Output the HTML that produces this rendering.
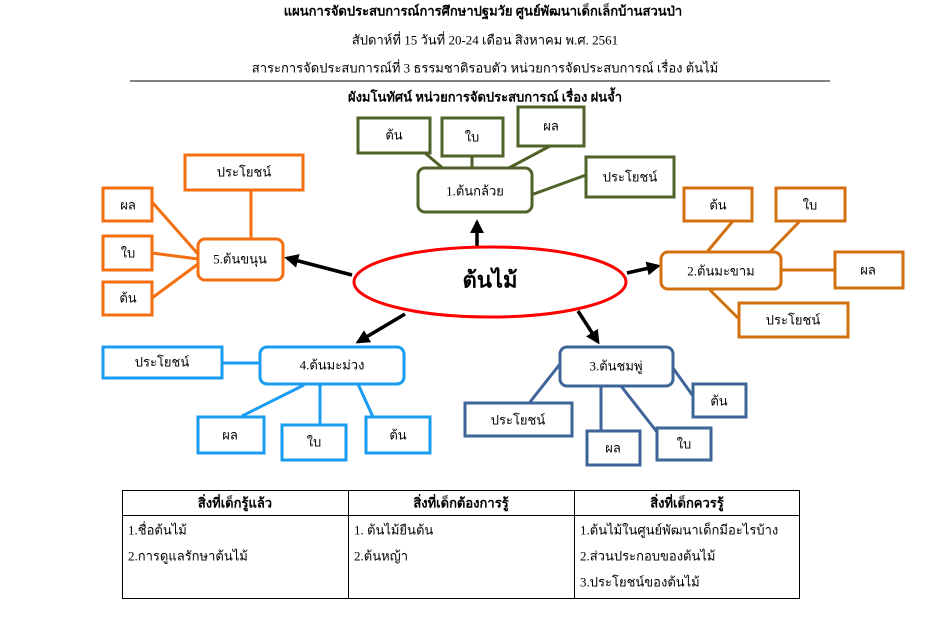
<!DOCTYPE html>
<html><head><meta charset="utf-8"><style>
html,body{margin:0;padding:0;background:#fff;width:941px;height:625px;overflow:hidden}
svg{display:block}
text{font-family:"Liberation Serif","DejaVu Sans",sans-serif;font-size:13px;fill:#000;text-anchor:middle;dominant-baseline:central}
.b{font-weight:bold}
</style></head><body>
<svg width="941" height="625" viewBox="0 0 941 625">
<defs><marker id="ah" viewBox="0 0 10 10" refX="8" refY="5" markerWidth="4" markerHeight="4" orient="auto"><path d="M0,0L10,5L0,10z" fill="#000"/></marker></defs>
<text x="483" y="11" class="b">แผนการจัดประสบการณ์การศึกษาปฐมวัย ศูนย์พัฒนาเด็กเล็กบ้านสวนป่า</text>
<text x="485" y="40">สัปดาห์ที่  15  วันที่ 20-24 เดือน  สิงหาคม  พ.ศ.  2561</text>
<text x="485" y="68">สาระการจัดประสบการณ์ที่ 3 ธรรมชาติรอบตัว  หน่วยการจัดประสบการณ์  เรื่อง ต้นไม้</text>
<line x1="130" y1="81" x2="830" y2="81" stroke="#000" stroke-width="1"/>
<text x="485" y="97" class="b">ผังมโนทัศน์   หน่วยการจัดประสบการณ์  เรื่อง ฝนจ้ำ</text>

<g stroke="#000" stroke-width="3.5" marker-end="url(#ah)">
<line x1="477" y1="248" x2="477" y2="222"/>
<line x1="352" y1="275" x2="287" y2="258"/>
<line x1="627" y1="273" x2="658" y2="266"/>
<line x1="405" y1="314" x2="358" y2="342"/>
<line x1="578" y1="311" x2="598" y2="342"/>
</g>
<ellipse cx="490" cy="282" rx="136" ry="35" fill="#fff" stroke="#f00" stroke-width="3"/>
<text x="490" y="280" class="b" style="font-size:22px">ต้นไม้</text>

<g stroke="#4f6228" stroke-width="3" fill="#fff">
<line x1="425" y1="153" x2="445" y2="170"/><line x1="472" y1="156" x2="472" y2="168"/>
<line x1="550" y1="146" x2="505" y2="170"/><line x1="586" y1="175" x2="531" y2="195"/>
<rect x="358" y="118" width="72" height="35"/><rect x="442" y="118" width="61" height="38"/>
<rect x="518" y="107" width="66" height="39"/><rect x="586" y="157" width="88" height="40"/>
<rect x="418" y="168" width="114" height="44" rx="7"/>
</g>
<text x="394" y="135">ต้น</text><text x="472" y="137">ใบ</text><text x="551" y="126">ผล</text><text x="630" y="177">ประโยชน์</text><text x="475" y="191">1.ต้นกล้วย</text>

<g stroke="#f36f0f" stroke-width="3" fill="#fff">
<line x1="251" y1="190" x2="251" y2="238"/><line x1="152" y1="202" x2="198" y2="254"/>
<line x1="152" y1="253" x2="198" y2="259"/><line x1="152" y1="298" x2="198" y2="264"/>
<rect x="185" y="155" width="118" height="35"/><rect x="103" y="188" width="49" height="33"/>
<rect x="103" y="236" width="49" height="34"/><rect x="103" y="282" width="49" height="33"/>
<rect x="198" y="239" width="85" height="41" rx="7"/>
</g>
<text x="244" y="172">ประโยชน์</text><text x="128" y="205">ผล</text><text x="128" y="253">ใบ</text><text x="128" y="298">ต้น</text><text x="240" y="259">5.ต้นขนุน</text>

<g stroke="#d2700f" stroke-width="3" fill="#fff">
<line x1="733" y1="221" x2="707" y2="252"/><line x1="800" y1="221" x2="770" y2="252"/>
<line x1="781" y1="270" x2="835" y2="270"/><line x1="710" y1="290" x2="738" y2="318"/>
<rect x="684" y="188" width="68" height="33"/><rect x="776" y="188" width="69" height="33"/>
<rect x="835" y="252" width="68" height="36"/><rect x="739" y="303" width="109" height="34"/>
<rect x="661" y="252" width="120" height="37" rx="7"/>
</g>
<text x="718" y="205">ต้น</text><text x="810" y="205">ใบ</text><text x="868" y="270">ผล</text><text x="793" y="320">ประโยชน์</text><text x="721" y="271">2.ต้นมะขาม</text>

<g stroke="#3e6598" stroke-width="3" fill="#fff">
<line x1="560" y1="364" x2="530" y2="402"/><line x1="601" y1="386" x2="601" y2="431"/>
<line x1="621" y1="386" x2="657" y2="432"/><line x1="673" y1="368" x2="693" y2="396"/>
<rect x="465" y="403" width="107" height="33"/><rect x="587" y="431" width="53" height="34"/>
<rect x="657" y="428" width="54" height="32"/><rect x="693" y="384" width="53" height="33"/>
<rect x="560" y="347" width="113" height="39" rx="7"/>
</g>
<text x="518" y="420">ประโยชน์</text><text x="613" y="448">ผล</text><text x="684" y="444">ใบ</text><text x="719" y="401">ต้น</text><text x="616" y="366">3.ต้นชมพู่</text>

<g stroke="#1a9cf0" stroke-width="3" fill="#fff">
<line x1="222" y1="363" x2="260" y2="363"/><line x1="304" y1="385" x2="242" y2="416"/>
<line x1="320" y1="384" x2="320" y2="425"/><line x1="358" y1="384" x2="373" y2="417"/>
<rect x="103" y="347" width="119" height="31"/><rect x="198" y="417" width="66" height="36"/>
<rect x="282" y="425" width="64" height="35"/><rect x="366" y="417" width="64" height="36"/>
<rect x="260" y="347" width="144" height="37" rx="7"/>
</g>
<text x="162" y="362">ประโยชน์</text><text x="230" y="435">ผล</text><text x="314" y="442">ใบ</text><text x="398" y="435">ต้น</text><text x="332" y="365">4.ต้นมะม่วง</text>

<g stroke="#000" stroke-width="1" fill="none">
<rect x="122.5" y="490.5" width="677" height="108"/>
<line x1="122" y1="515.5" x2="800" y2="515.5"/>
<line x1="348.5" y1="490" x2="348.5" y2="599"/><line x1="574.5" y1="490" x2="574.5" y2="599"/>
</g>
<text x="235" y="503" class="b">สิ่งที่เด็กรู้แล้ว</text><text x="461" y="503" class="b">สิ่งที่เด็กต้องการรู้</text><text x="687" y="503" class="b">สิ่งที่เด็กควรรู้</text>
<g style="text-anchor:start">
<text x="128" y="530" style="text-anchor:start">1.ชื่อต้นไม้</text>
<text x="128" y="556" style="text-anchor:start">2.การดูแลรักษาต้นไม้</text>
<text x="354" y="530" style="text-anchor:start">1. ต้นไม้ยืนต้น</text>
<text x="354" y="556" style="text-anchor:start">2.ต้นหญ้า</text>
<text x="580" y="530" style="text-anchor:start">1.ต้นไม้ในศูนย์พัฒนาเด็กมีอะไรบ้าง</text>
<text x="580" y="556" style="text-anchor:start">2.ส่วนประกอบของต้นไม้</text>
<text x="580" y="582" style="text-anchor:start">3.ประโยชน์ของต้นไม้</text>
</g>
</svg>
</body></html>
